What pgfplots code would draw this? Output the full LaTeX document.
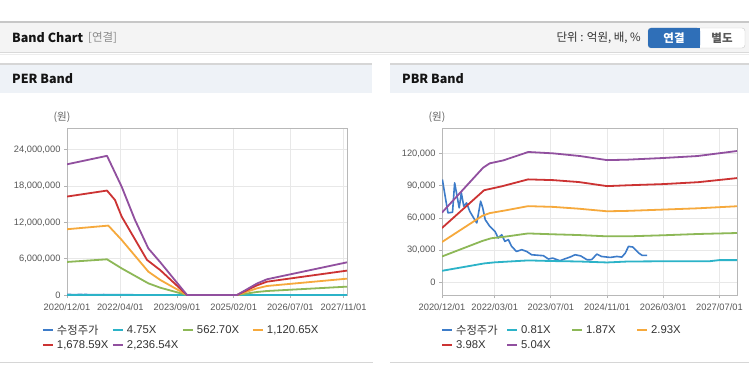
\documentclass[border=0pt]{standalone}
\usepackage{fontspec}
\setmainfont{Liberation Sans}
\newfontfamily\kr{Noto Sans CJK KR}
\usepackage{pgfplots}
\pgfplotsset{compat=1.18}

\definecolor{cPrice}{HTML}{3D7CC9}
\definecolor{cCyan}{HTML}{2CB3C8}
\definecolor{cGreen}{HTML}{8DB857}
\definecolor{cOrange}{HTML}{F6A93C}
\definecolor{cRed}{HTML}{CC3333}
\definecolor{cPurple}{HTML}{91509F}
\definecolor{hdr}{HTML}{F4F4F4}
\definecolor{phdr}{HTML}{EEF2F7}
\definecolor{btnblue}{HTML}{2F6FB8}

\pgfplotstableread{
m v
0.1 95900
1.7 64700
3.0 65300
3.6 92800
4.9 69400
5.5 83400
6.2 70900
7.0 74000
7.9 66200
9.3 58400
9.9 55300
11.0 75600
11.6 69400
12.3 58400
13.6 52100
15.1 47400
16.0 41200
17.0 44300
17.9 38100
18.9 39700
19.8 33500
21.2 28700
22.7 30300
24.1 28700
25.5 25600
27.0 25200
28.9 24700
30.3 21600
31.5 22500
33.6 20000
35.0 21800
36.5 23500
37.9 25600
39.5 24500
41.3 20900
42.6 21000
44.1 26200
45.4 24000
47.9 23100
49.8 24000
51.2 23400
52.2 27200
53.1 33400
54.3 32800
56.0 27200
57.0 25000
58.4 25000
}\price

\pgfplotsset{bandaxis/.style={
 scale only axis, height=167pt,
 xmin=0, xmax=84,
 scaled y ticks=false,
 axis line style={draw=black!28},
 grid=major, major grid style={draw=black!9, line width=0.8pt},
 tick align=outside, major tick length=3pt, tick style={draw=black!30, line width=0.8pt},
 xtick pos=left, ytick pos=left,
 ticklabel style={font=\fontsize{9.3}{10}\selectfont, text=black!66},
 xticklabel style={yshift=-2pt},
 legend columns=4, legend cell align=left,
 legend image code/.code={\draw[##1, line width=2pt] (0pt,0pt) -- (10pt,0pt);},
 legend style={draw=none, fill=none, inner sep=0pt, outer sep=0pt,
   font=\fontsize{11.3}{13}\selectfont, text=black!80, nodes={inner sep=0pt},
   /tikz/every odd column/.append style={column sep=3pt}, /tikz/row sep=4.5pt},
 every axis plot/.append style={line width=1.8pt, line join=round, no markers},
}}

\begin{document}
\begin{tikzpicture}
\useasboundingbox (0,0) rectangle (749pt,364pt);
\fill[white] (0,0) rectangle (749pt,364pt);
\begin{scope}[x=1pt,y=-1pt,shift={(0pt,364pt)}]
 % top header
 \fill[hdr] (0,22) rectangle (749,53);
 \draw[black!22, line width=1.2pt] (0,22) -- (749,22);
 \draw[black!15, line width=1pt] (0,53) -- (749,53);
 \draw[black!7, line width=1pt] (0,54.5) -- (749,54.5);
 \node[anchor=west, inner sep=0pt, font=\kr\bfseries\fontsize{12.5}{14}\selectfont, text=black!92] at (12,38) {Band Chart};
 \node[anchor=west, inner sep=0pt, font=\kr\fontsize{11.5}{13}\selectfont, text=black!45] at (88,38) {[연결]};
 \node[anchor=east, inner sep=0pt, font=\kr\fontsize{11.5}{13}\selectfont, text=black!80] at (641,38) {단위 : 억원, 배, \%};
 \draw[black!20, fill=white, rounded corners=3pt] (648,28) rectangle (745,48);
 \fill[btnblue, rounded corners=3pt] (648,28) rectangle (700,48);
 \fill[btnblue] (690,28) rectangle (700,48);
 \node[inner sep=0pt, font=\kr\bfseries\fontsize{11.5}{13}\selectfont, text=white] at (674,38) {연결};
 \node[inner sep=0pt, font=\kr\bfseries\fontsize{11.5}{13}\selectfont, text=black!65] at (722,38) {별도};
 % panel headers
 \fill[phdr] (0,64) rectangle (372,93);
 \fill[phdr] (390,64) rectangle (749,93);
 \draw[black!16, line width=1.2pt] (0,64) -- (372,64);
 \draw[black!16, line width=1.2pt] (390,64) -- (749,64);
 \node[anchor=west, inner sep=0pt, font=\kr\bfseries\fontsize{12.5}{14}\selectfont, text=black!92] at (12,79) {PER Band};
 \node[anchor=west, inner sep=0pt, font=\kr\bfseries\fontsize{12.5}{14}\selectfont, text=black!92] at (402,79) {PBR Band};
 % bottom lines
 \draw[black!16, line width=1.5pt] (0,362.5) -- (373,362.5);
 \draw[black!16, line width=1.5pt] (390,362.5) -- (749,362.5);
 % unit labels
 \node[inner sep=0pt, font=\kr\fontsize{10.5}{12}\selectfont, text=black!62] at (62,117) {(원)};
 \node[inner sep=0pt, font=\kr\fontsize{10.5}{12}\selectfont, text=black!62] at (437,117) {(원)};
\end{scope}

% PER Band
\begin{axis}[bandaxis, at={(67pt,69pt)}, anchor=south west, width=280pt,
 ymin=0, ymax=27600000,
 xtick={0,16,33,50,67,83},
 xticklabels={2020/12/01,2022/04/01,2023/09/01,2025/02/01,2026/07/01,2027/11/01},
 ytick={0,6000000,12000000,18000000,24000000},
 yticklabels={0,{6,000,000},{12,000,000},{18,000,000},{24,000,000}},
 legend style={at={(axis description cs:-0.0893,-0.18)}, anchor=north west},
]
\addplot[cPrice, line width=1.6pt] table[x=m,y=v] {\price};
\addlegendentry{\makebox[55pt][l]{\kr 수정주가}}
\addplot[cCyan] coordinates {(0,40000) (84,40000)};
\addlegendentry{\makebox[55pt][l]{4.75X}}
\addplot[cGreen] coordinates {(0,5460000) (12,5900000) (16.4,4400000) (24.4,1930000) (28,1200000) (36,0) (51,0) (57,500000) (60,660000) (84,1380000)};
\addlegendentry{\makebox[55pt][l]{562.70X}}
\addplot[cOrange] coordinates {(0,10870000) (12.4,11470000) (16.4,9100000) (24.4,3860000) (28,2480000) (36,0) (51,0) (57,1100000) (60,1490000) (84,2700000)};
\addlegendentry{\makebox[55pt][l]{1,120.65X}}
\addplot[cRed] coordinates {(0,16270000) (12,17260000) (14.4,15700000) (16.4,12960000) (24,5800000) (28,4100000) (36,0) (51,0) (57,1600000) (60,2200000) (84,4030000)};
\addlegendentry{\makebox[55pt][l]{1,678.59X}}
\addplot[cPurple] coordinates {(0,21600000) (12,23000000) (16.4,17900000) (20.4,12400000) (24.4,7700000) (28,5400000) (36,0) (51,0) (57,1900000) (60,2600000) (84,5400000)};
\addlegendentry{\makebox[55pt][l]{2,236.54X}}
\end{axis}

% PBR Band
\begin{axis}[bandaxis, at={(442pt,69pt)}, anchor=south west, width=295pt,
 ymin=-12000, ymax=144000,
 xtick={0,15,31,47,63,79},
 xticklabels={2020/12/01,2022/03/01,2023/07/01,2024/11/01,2026/03/01,2027/07/01},
 ytick={0,30000,60000,90000,120000},
 yticklabels={0,{30,000},{60,000},{90,000},{120,000}},
 legend style={at={(axis description cs:-0.003,-0.18)}, anchor=north west},
]
\addplot[cPrice, line width=1.6pt] table[x=m,y=v] {\price};
\addlegendentry{\makebox[50pt][l]{\kr 수정주가}}
\addplot[cCyan] coordinates {(0,10600) (12,17500) (15,18500) (24.5,20300) (31.7,19700) (39,19300) (47,18400) (53,19300) (63,19500) (76,19500) (79,20600) (84,20600)};
\addlegendentry{\makebox[50pt][l]{0.81X}}
\addplot[cGreen] coordinates {(0,24000) (11.5,38500) (14,41000) (18,42500) (24.5,45500) (31.7,44700) (39,44000) (47,42800) (53,42800) (63,43800) (73,45000) (84,45900)};
\addlegendentry{\makebox[50pt][l]{1.87X}}
\addplot[cOrange] coordinates {(0,37500) (11.5,62000) (13.6,64500) (18,67000) (24.5,71000) (31.7,70300) (39,68600) (47,66200) (53,66600) (63,67800) (73,69000) (84,70900)};
\addlegendentry{\makebox[50pt][l]{2.93X}}
\addplot[cRed] coordinates {(0,50600) (12,85900) (17,89500) (24.5,96000) (31.7,95300) (39,93500) (47,89700) (53,90500) (63,91600) (73,93400) (84,97200)};
\addlegendentry{\makebox[50pt][l]{3.98X}}
\addplot[cPurple] coordinates {(0,65000) (11.7,106900) (13.6,111000) (17.4,113700) (24.6,121600) (31.7,120300) (39.3,117800) (47,114000) (52.7,114400) (63.1,116000) (72.7,117800) (84,122500)};
\addlegendentry{\makebox[50pt][l]{5.04X}}
\end{axis}
\end{tikzpicture}
\end{document}
